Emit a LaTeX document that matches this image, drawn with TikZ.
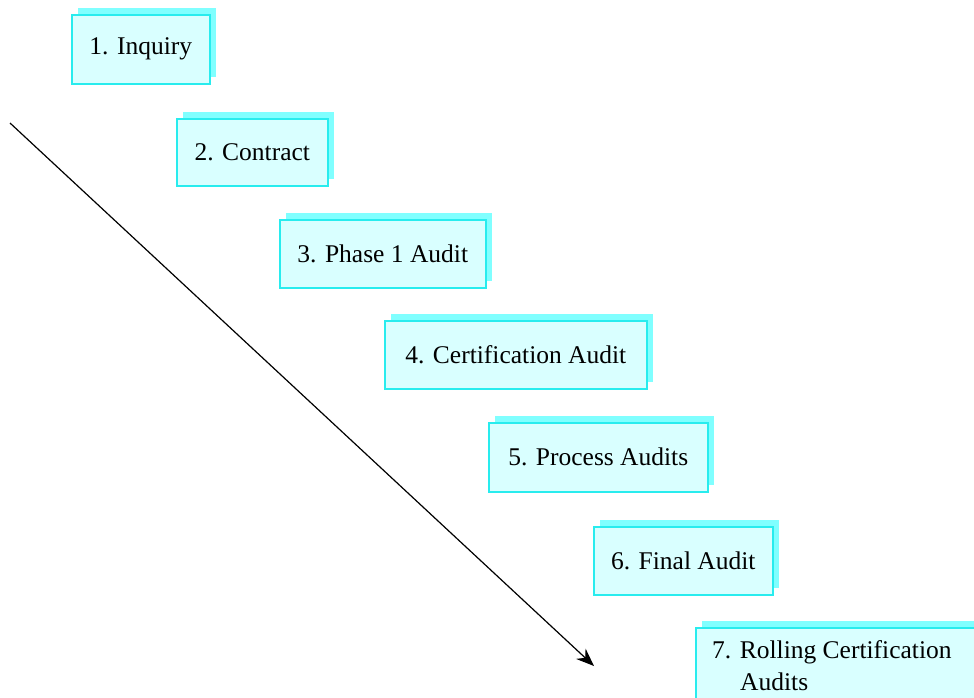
\documentclass[tikz,border=0pt]{standalone}
\usepackage{fontspec}
\setmainfont{Liberation Serif}
\usetikzlibrary{shadows,arrows.meta}
\definecolor{boxfill}{RGB}{217,255,255}
\definecolor{boxline}{RGB}{40,236,238}
\definecolor{boxshadow}{RGB}{128,255,255}
\tikzset{
  stepfont/.style={font=\fontsize{25.5pt}{32pt}\selectfont},
  stepbox/.style={draw=boxline, line width=1.6pt, fill=boxfill, anchor=north west,
    inner sep=0pt, stepfont,
    general shadow={shadow xshift=6.5pt, shadow yshift=6.5pt, fill=boxshadow, draw=none}},
  flow/.style={line width=1.2pt, -{Stealth[length=18pt, width=14pt, inset=6pt]}}
}
\begin{document}
\begin{tikzpicture}[x=1pt, y=-1pt]
  \useasboundingbox (0,0) rectangle (974,697);
  \begin{scope}
    \clip (0,0) rectangle (974,697);
    \node[stepbox, minimum width=138pt, minimum height=69pt] (b1) at (71,14) {1. Inquiry};
    \node[stepbox, minimum width=151pt, minimum height=67pt] (b2) at (176,118) {2. Contract};
    \node[stepbox, minimum width=206pt, minimum height=68pt] (b3) at (279,219) {3. Phase 1 Audit};
    \node[stepbox, minimum width=262pt, minimum height=68pt] (b4) at (384,320) {4. Certification Audit};
    \node[stepbox, minimum width=219pt, minimum height=69pt] (b5) at (488,422) {5. Process Audits};
    \node[stepbox, minimum width=179pt, minimum height=68pt] (b6) at (593,526) {6. Final Audit};
    \node[stepbox, minimum width=300pt, minimum height=90pt] (b7) at (695,627) {};
    % the base anchor of a two-line node sits on its last line
    \node[stepfont, anchor=base west, align=left, inner sep=0pt] (b7text) at (712,690)
      {7. Rolling Certification\\\hspace*{28pt}Audits};
  \end{scope}
  \coordinate (start) at (10,123);
  \coordinate (finish) at (594,666);
  \draw[flow] (start) -- (finish);
\end{tikzpicture}
\end{document}
